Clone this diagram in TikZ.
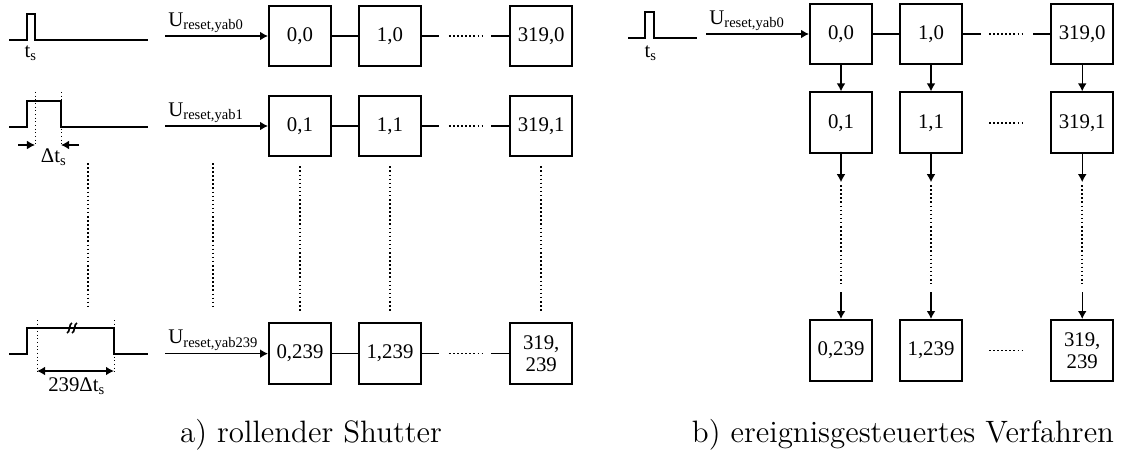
\documentclass[tikz,border=0pt]{standalone}
\usepackage{fontspec}
\usepackage{tikz}
\usetikzlibrary{arrows.meta,positioning,calc}
\newfontfamily\timesfont{Liberation Serif}
\newcommand{\cellfont}{\timesfont\fontsize{7.4}{7.8}\selectfont}
\newcommand{\ulab}[1]{U\textsubscript{reset,yab#1}}

\begin{document}
\begin{tikzpicture}[
  x=0.0125cm, y=-0.0125cm,
  node distance=3.4mm and 3.25mm,
  cell/.style={draw, line width=0.7pt, minimum width=7.75mm, minimum height=7.6mm, inner sep=0pt, align=center, font=\cellfont},
  lbl/.style={font=\cellfont, inner sep=1pt},
  capt/.style={font=\fontsize{11}{13}\selectfont, inner sep=0pt},
  arrow/.style={-{Latex[length=1mm,width=1.1mm]}, line width=0.5pt},
  dimarrow/.style={{Latex[length=1mm,width=1.1mm]}-{Latex[length=1mm,width=1.1mm]}, line width=0.6pt},
  link/.style={line width=0.6pt},
  wave/.style={line width=0.7pt},
  vdots/.style={line width=0.55pt, dash pattern=on 0.55pt off 0.9pt},
  guide/.style={line width=0.35pt, dash pattern=on 0.4pt off 0.9pt}
]
  \useasboundingbox (0,0) rectangle (1121,454);

  % a) rollender Shutter
  \node[cell] (a00) at (300,36) {0,0};
  \node[cell, right=of a00] (a10) {1,0};
  \node[cell, right=10.9mm of a10] (an0) {319,0};
  \node[cell, below=of a00] (a01) {0,1};
  \node[cell, right=of a01] (a11) {1,1};
  \node[cell, right=10.9mm of a11] (an1) {319,1};
  \node[cell, below=20.6mm of a01] (a0m) {0,239};
  \node[cell, right=of a0m] (a1m) {1,239};
  \node[cell, right=10.9mm of a1m] (anm) {319,\\239};

  \draw[link] (a00) -- (a10);
  \draw[link] (a10.east) -- ++(17,0);
  \draw[vdots] ($(a10.east)+(27,0)$) -- ($(an0.west)+(-27,0)$);
  \draw[link] (an0.west) -- ++(-18,0);
  \draw[link] (a01) -- (a11);
  \draw[link] (a11.east) -- ++(17,0);
  \draw[vdots] ($(a11.east)+(27,0)$) -- ($(an1.west)+(-27,0)$);
  \draw[link] (an1.west) -- ++(-18,0);
  \draw[link] (a0m) -- (a1m);
  \draw[link] (a1m.east) -- ++(17,0);
  \draw[vdots] ($(a1m.east)+(27,0)$) -- ($(anm.west)+(-27,0)$);
  \draw[link] (anm.west) -- ++(-18,0);

  \coordinate (ain0) at ($(a00.west)+(-103,0)$);
  \coordinate (ain1) at ($(a01.west)+(-103,0)$);
  \coordinate (ainm) at ($(a0m.west)+(-103,0)$);
  \draw[arrow] (ain0) -- (a00);
  \draw[arrow] (ain1) -- (a01);
  \draw[arrow] (ainm) -- (a0m);
  \node[lbl, anchor=south west] (au0) at (ain0) {\ulab{0}};
  \node[lbl, anchor=south west] (au1) at (ain1) {\ulab{1}};
  \node[lbl, anchor=south west] (aum) at (ainm) {\ulab{239}};

  \draw[vdots] (88,163) -- (88,309);
  \draw[vdots] (213,163) -- (213,309);
  \draw[vdots] ($(a01.south)+(0,9)$) -- ($(a0m.north)+(0,-10)$);
  \draw[vdots] ($(a11.south)+(0,9)$) -- ($(a1m.north)+(0,-10)$);
  \draw[vdots] ($(an1.south)+(0,9)$) -- ($(anm.north)+(0,-10)$);

  % Reset-Impulse
  \draw[wave] (9,40) -- (27,40) -- (27,14) -- (35,14) -- (35,40) -- (148,40);
  \node[lbl] (ts0) at (31,53) {t\textsubscript{s}};

  \draw[wave] (9,127) -- (27,127) -- (27,101) -- (61,101) -- (61,127) -- (148,127);
  \draw[guide] (35,92) -- (35,146);
  \draw[guide] (61,92) -- (61,146);
  \draw[arrow] (18,145) -- (35,145);
  \draw[arrow] (79,145) -- (61,145);
  \node[lbl] (ts1) at (54,157) {Δt\textsubscript{s}};

  \draw[wave] (9,354) -- (27,354) -- (27,328) -- (114,328) -- (114,354) -- (148,354);
  \draw[line width=0.6pt] (67,333) .. controls (70,333) and (69,323) .. (72,323);
  \draw[line width=0.6pt] (72,333) .. controls (75,333) and (74,323) .. (77,323);
  \draw[guide] (37,320) -- (37,373);
  \draw[guide] (114,320) -- (114,373);
  \draw[dimarrow] (37,371) -- (114,371);
  \node[lbl] (tsm) at (77,386) {239Δt\textsubscript{s}};

  % b) ereignisgesteuertes Verfahren
  \node[cell] (b00) at (841,34) {0,0};
  \node[cell, right=of b00] (b10) {1,0};
  \node[cell, right=10.9mm of b10] (bn0) {319,0};
  \node[cell, below=3.25mm of b00] (b01) {0,1};
  \node[cell, right=of b01] (b11) {1,1};
  \node[cell, right=10.9mm of b11] (bn1) {319,1};
  \node[cell, below=20.6mm of b01] (b0m) {0,239};
  \node[cell, right=of b0m] (b1m) {1,239};
  \node[cell, right=10.9mm of b1m] (bnm) {319,\\239};

  \draw[link] (b00) -- (b10);
  \draw[link] (b10.east) -- ++(18,0);
  \draw[vdots] ($(b10.east)+(26,0)$) -- ($(bn0.west)+(-27,0)$);
  \draw[link] (bn0.west) -- ++(-17,0);
  \draw[vdots] ($(b11.east)+(26,0)$) -- ($(bn1.west)+(-27,0)$);
  \draw[vdots] ($(b1m.east)+(26,0)$) -- ($(bnm.west)+(-27,0)$);

  \coordinate (bin0) at ($(b00.west)+(-103,0)$);
  \draw[arrow] (bin0) -- (b00);
  \node[lbl, anchor=south west] (bu0) at (bin0) {\ulab{0}};

  \draw[wave] (628,38) -- (645,38) -- (645,12) -- (654,12) -- (654,38) -- (697,38);
  \node[lbl] (tsb) at (651,53) {t\textsubscript{s}};

  \draw[arrow] (b00) -- (b01);
  \draw[arrow] (b10) -- (b11);
  \draw[arrow] (bn0) -- (bn1);
  \draw[arrow] (b01.south) -- ++(0,28);
  \draw[arrow] (b11.south) -- ++(0,28);
  \draw[arrow] (bn1.south) -- ++(0,28);
  \draw[vdots] ($(b01.south)+(0,31)$) -- ($(b0m.north)+(0,-35)$);
  \draw[vdots] ($(b11.south)+(0,31)$) -- ($(b1m.north)+(0,-35)$);
  \draw[vdots] ($(bn1.south)+(0,31)$) -- ($(bnm.north)+(0,-35)$);
  \draw[arrow] ($(b0m.north)+(0,-27)$) -- (b0m);
  \draw[arrow] ($(b1m.north)+(0,-27)$) -- (b1m);
  \draw[arrow] ($(bnm.north)+(0,-27)$) -- (bnm);

  \node[capt, anchor=base] (capa) at (311,442) {a) rollender Shutter};
  \node[capt, anchor=base] (capb) at (903,442) {b) ereignisgesteuertes Verfahren};
\end{tikzpicture}
\end{document}
